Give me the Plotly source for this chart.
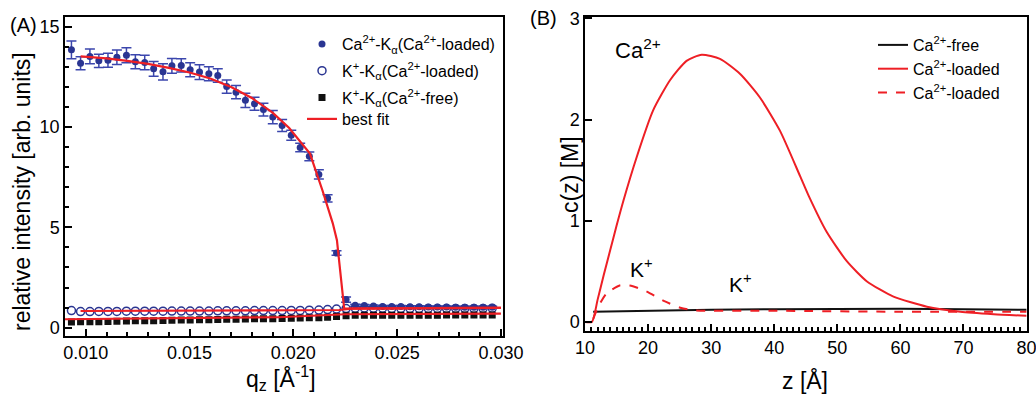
import plotly.graph_objects as go

# ---------------- Panel A data ----------------
q_grid = [0.00931, 0.00975, 0.01020, 0.01063, 0.01107, 0.01150, 0.01196, 0.01239,
          0.01284, 0.01327, 0.01372, 0.01415, 0.01460, 0.01503, 0.01548, 0.01593,
          0.01636, 0.01679, 0.01724, 0.01769, 0.01813, 0.01856, 0.01901, 0.01946,
          0.01990, 0.02033, 0.02077, 0.02123, 0.02165, 0.02208, 0.02254, 0.02298,
          0.02342, 0.02386, 0.02430, 0.02474, 0.02518, 0.02562, 0.02606, 0.02650,
          0.02694, 0.02738, 0.02782, 0.02826, 0.02870, 0.02914, 0.02958]

ca_loaded_ca = [13.85, 13.18, 13.52, 13.30, 13.33, 13.48, 13.58, 13.25, 13.22, 12.90,
                12.75, 13.05, 13.07, 12.86, 12.74, 12.66, 12.57, 12.02, 11.74, 11.33,
                11.16, 10.87, 10.50, 10.08, 9.59, 8.98, 8.54, 7.64, 6.45, 3.72, 1.40,
                1.12, 1.10, 1.08, 1.06, 1.05, 1.05, 1.04, 1.04, 1.03, 1.03, 1.03, 1.02,
                1.02, 1.02, 1.02, 1.02]
ca_loaded_err = [0.44, 0.32, 0.37, 0.33, 0.35, 0.36, 0.37, 0.35, 0.36, 0.37, 0.41, 0.37,
                 0.33, 0.35, 0.37, 0.35, 0.34, 0.33, 0.33, 0.35, 0.32, 0.32, 0.33, 0.30,
                 0.25, 0.21, 0.22, 0.23, 0.18, 0.11, 0.13, 0.05, 0.05, 0.05, 0.05, 0.05,
                 0.05, 0.05, 0.05, 0.05, 0.05, 0.05, 0.05, 0.05, 0.05, 0.05, 0.05]

k_loaded = [0.85, 0.80, 0.80, 0.81, 0.81, 0.81, 0.82, 0.82, 0.82, 0.82, 0.82, 0.83,
            0.83, 0.83, 0.83, 0.83, 0.84, 0.84, 0.84, 0.84, 0.85, 0.85, 0.85, 0.85,
            0.86, 0.86, 0.87, 0.88, 0.90, 0.93, 0.95, 0.97, 0.98, 0.97, 0.97, 0.96,
            0.96, 0.96, 0.96, 0.96, 0.96, 0.96, 0.96, 0.96, 0.96, 0.96, 0.97]

k_free = [0.28, 0.29, 0.30, 0.30, 0.31, 0.32, 0.33, 0.34, 0.34, 0.35, 0.36, 0.37,
          0.38, 0.38, 0.39, 0.40, 0.41, 0.42, 0.42, 0.43, 0.44, 0.45, 0.45, 0.46,
          0.47, 0.48, 0.49, 0.50, 0.52, 0.56, 0.60, 0.62, 0.62, 0.62, 0.62, 0.62,
          0.62, 0.62, 0.62, 0.62, 0.62, 0.63, 0.63, 0.63, 0.63, 0.63, 0.63]

fit_ca_q = [0.00975, 0.011, 0.012, 0.013, 0.014, 0.015, 0.016, 0.017, 0.018, 0.019,
            0.0198, 0.0208, 0.0214, 0.0219, 0.0221, 0.02245, 0.025, 0.030]
fit_ca_v = [13.52, 13.42, 13.30, 13.15, 12.95, 12.72, 12.42, 12.00, 11.45, 10.72,
            9.95, 8.68, 6.85, 5.20, 4.36, 0.95, 0.96, 0.98]
fit_kl_q = [0.00975, 0.0210, 0.0222, 0.0228, 0.030]
fit_kl_v = [0.83, 0.85, 0.88, 0.95, 1.00]
fit_kf_q = [0.0090, 0.0193, 0.0225, 0.030]
fit_kf_v = [0.42, 0.52, 0.67, 0.70]

# ---------------- Panel B data ----------------
z_free = [11.3, 20, 30, 40, 50, 60, 70, 80]
c_free = [0.10, 0.11, 0.12, 0.125, 0.13, 0.13, 0.125, 0.12]

z_ca = [10.0, 11.1, 12.0, 13.0, 14.0, 15.0, 16.1, 18.2, 20.8, 23.5, 26.1, 28.5, 31.4,
        34.6, 37.7, 40.9, 44.1, 45.5, 48.3, 51.5, 54.7, 58.9, 64.2, 69.5, 74.8, 80.0]
c_ca = [0.0, 0.0, 0.22, 0.47, 0.71, 0.95, 1.20, 1.63, 2.09, 2.39, 2.58, 2.64, 2.60,
        2.45, 2.22, 1.89, 1.44, 1.24, 0.89, 0.60, 0.40, 0.25, 0.15, 0.10, 0.076, 0.06]

z_k = [11.3, 12.1, 13.4, 15.5, 17.1, 19.8, 22.4, 25.1, 27.2, 40.9, 60.0, 80.0]
c_k = [0.03, 0.15, 0.28, 0.36, 0.36, 0.30, 0.21, 0.14, 0.115, 0.11, 0.10, 0.10]

NAVY = "#2a3592"
RED = "#ee1f25"
BLACK = "#111111"
FONT = "Liberation Sans, Arial, sans-serif"

fig = go.Figure()

# Panel A traces
fig.add_trace(go.Scatter(
    x=q_grid, y=ca_loaded_ca, mode="markers", name="Ca<sup>2+</sup>-K<sub>α</sub>(Ca<sup>2+</sup>-loaded)",
    marker=dict(color=NAVY, size=7, symbol="circle"),
    error_y=dict(type="data", array=ca_loaded_err, visible=True, color="#3b46ad", thickness=1.5, width=5),
    xaxis="x", yaxis="y", legend="legend", legendgroup="a1"))
fig.add_trace(go.Scatter(
    x=q_grid, y=k_loaded, mode="markers", name="K<sup>+</sup>-K<sub>α</sub>(Ca<sup>2+</sup>-loaded)",
    marker=dict(color=NAVY, size=8, symbol="circle-open", line=dict(width=1.5, color="#3b46ad")),
    xaxis="x", yaxis="y", legend="legend", legendgroup="a2"))
fig.add_trace(go.Scatter(
    x=q_grid, y=k_free, mode="markers", name="K<sup>+</sup>-K<sub>α</sub>(Ca<sup>2+</sup>-free)",
    marker=dict(color=BLACK, size=7, symbol="square"),
    xaxis="x", yaxis="y", legend="legend", legendgroup="a3"))
fig.add_trace(go.Scatter(
    x=fit_kf_q, y=fit_kf_v, mode="lines", line=dict(color=RED, width=2.2),
    showlegend=False, xaxis="x", yaxis="y"))
fig.add_trace(go.Scatter(
    x=fit_kl_q, y=fit_kl_v, mode="lines", line=dict(color=RED, width=2.2),
    showlegend=False, xaxis="x", yaxis="y"))
fig.add_trace(go.Scatter(
    x=fit_ca_q, y=fit_ca_v, mode="lines", name="best fit", line=dict(color=RED, width=2.2),
    xaxis="x", yaxis="y", legend="legend2"))

# Panel B traces
fig.add_trace(go.Scatter(
    x=z_free, y=c_free, mode="lines", name="Ca<sup>2+</sup>-free",
    line=dict(color=BLACK, width=2), xaxis="x2", yaxis="y2", legend="legend3",
    legendgroup="b1"))
fig.add_trace(go.Scatter(
    x=z_ca, y=c_ca, mode="lines", name="Ca<sup>2+</sup>-loaded",
    line=dict(color=RED, width=2, shape="spline", smoothing=0.6), xaxis="x2", yaxis="y2",
    legend="legend3", legendgroup="b2"))
fig.add_trace(go.Scatter(
    x=z_k, y=c_k, mode="lines", name="Ca<sup>2+</sup>-loaded",
    line=dict(color=RED, width=2, dash="dash", shape="spline", smoothing=0.6),
    xaxis="x2", yaxis="y2", legend="legend3", legendgroup="b3"))

W, H = 1036, 397
axis_common = dict(showline=True, linecolor="black", linewidth=1.5, mirror=True,
                   showgrid=False, zeroline=False, ticks="inside", tickcolor="black",
                   tickwidth=1.5, ticklen=7, automargin=False, ticklabeloverflow="allow",
                   tickfont=dict(family=FONT, size=18, color="black"))

fig.update_layout(
    width=W, height=H, margin=dict(l=0, r=0, t=0, b=0, pad=0, autoexpand=False),
    paper_bgcolor="white", plot_bgcolor="white",
    font=dict(family=FONT, color="black"),
    xaxis=dict(domain=[65 / W, 503 / W], range=[0.009, 0.0301], anchor="y",
               tick0=0.010, dtick=0.005, tickformat=".3f",
               minor=dict(dtick=0.001, tick0=0.010, ticks="inside", ticklen=4,
                          tickwidth=1.5, tickcolor="black"), **axis_common),
    yaxis=dict(domain=[1 - 335.7 / H, 1 - 16.7 / H], range=[-0.4, 15.5], anchor="x",
               tick0=0, dtick=5,
               minor=dict(dtick=1, ticks="inside", ticklen=4, tickwidth=1.5,
                          tickcolor="black"), **axis_common),
    xaxis2=dict(domain=[585 / W, 1026.7 / W], range=[10, 80.02], anchor="y2",
                tick0=10, dtick=10,
                minor=dict(dtick=1, ticks="inside", ticklen=4, tickwidth=1.5,
                           tickcolor="black"), **axis_common),
    yaxis2=dict(domain=[1 - 331 / H, 1 - 16.7 / H], range=[-0.09, 3.016], anchor="x2",
                tick0=0, dtick=1, **axis_common),
    legend=dict(x=302 / W, y=1 - 27 / H, xanchor="left", yanchor="top",
                bgcolor="rgba(0,0,0,0)", font=dict(family=FONT, size=16, color="black"),
                tracegroupgap=3),
    legend2=dict(x=302 / W, y=1 - 102 / H, xanchor="left", yanchor="top",
                 bgcolor="rgba(0,0,0,0)", font=dict(family=FONT, size=16, color="black")),
    legend3=dict(x=873 / W, y=1 - 28 / H, xanchor="left", yanchor="top",
                 bgcolor="rgba(0,0,0,0)", font=dict(family=FONT, size=16, color="black"),
                 tracegroupgap=0),
)

ann = [
    dict(text="(A)", x=23 / W, y=1 - 25 / H, font=dict(size=20)),
    dict(text="(B)", x=543 / W, y=1 - 18 / H, font=dict(size=20)),
    dict(text="relative intensity [arb. units]", x=22 / W, y=1 - 192 / H,
         textangle=-90, font=dict(size=23)),
    dict(text="q<sub>z</sub> [Å<sup>-1</sup>]", x=281 / W, y=1 - 378 / H, font=dict(size=23)),
    dict(text="c(z) [M]", x=570 / W, y=1 - 175 / H, textangle=-90, font=dict(size=23)),
    dict(text="z [Å]", x=805 / W, y=1 - 380 / H, font=dict(size=23)),
]
for a in ann:
    fig.add_annotation(xref="paper", yref="paper", showarrow=False,
                       xanchor="center", yanchor="middle",
                       font=dict(family=FONT, color="black", size=a["font"]["size"]),
                       text=a["text"], x=a["x"], y=a["y"],
                       textangle=a.get("textangle", 0))

for txt, zx, cy, sz in [("Ca<sup>2+</sup>", 14.4, 2.70, 22),
                        ("K<sup>+</sup>", 16.8, 0.53, 21),
                        ("K<sup>+</sup>", 32.5, 0.38, 21)]:
    fig.add_annotation(xref="x2", yref="y2", x=zx, y=cy, text=txt, showarrow=False,
                       xanchor="left", yanchor="middle",
                       font=dict(family=FONT, color="black", size=sz))

fig.write_html(
    "out.html",
    config={"displayModeBar": False},
    post_script="document.body.style.margin='0';document.body.style.overflow='hidden';",
)
